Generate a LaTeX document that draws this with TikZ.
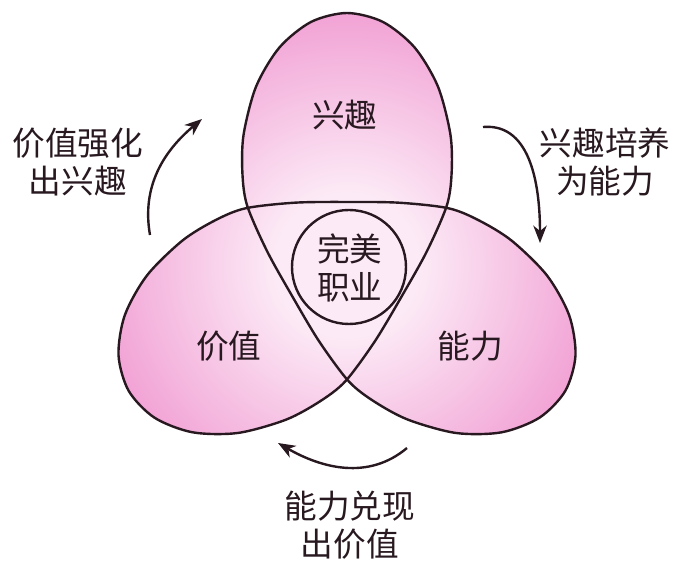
\documentclass[tikz,border=0pt]{standalone}
\usepackage{fontspec}
\setmainfont{Noto Sans CJK SC}
\usepackage{tikz}
\usetikzlibrary{arrows.meta, calc, positioning}
\definecolor{petalpink}{RGB}{241,158,211}
\definecolor{petalpale}{RGB}{252,234,246}
\definecolor{inkline}{RGB}{40,24,32}
\pgfdeclareradialshading{knotglow}{\pgfpoint{0bp}{0bp}}{color(0bp)=(petalpale); color(6bp)=(petalpale); color(22bp)=(petalpink); color(50bp)=(petalpink)}
% outline of the three-lobed knot: one lobe and its inner arc, turned by 120 degrees
\newcommand\knotpts{}
\foreach \k in {0,-120,-240}{%
 \foreach \px/\py in {0/252,-35.9/243.1,-67.5/217.6,-90.9/178.5,-103.4/130.5,-104.6/92.2,-99.9/59.6,-80/14,-54.6/-31.5,-27.9/-76.3,1.7/-116.3,27.5/-136.7,61.3/-154.8,109.1/-168,154.7/-167.3,192.6/-152.6}{%
  \pgfmathsetmacro\kx{\px*cos(\k)-\py*sin(\k)}%
  \pgfmathsetmacro\ky{\px*sin(\k)+\py*cos(\k)}%
  \xdef\knotpts{\knotpts(\kx,\ky)}}}
\begin{document}
\begin{tikzpicture}[x=0.75pt,y=0.75pt,
rim/.style={draw=inkline,line width=1.8pt},
word/.style={inner sep=0pt,align=center,text=inkline,font=\fontsize{24.5}{28.5}\selectfont},
flow/.style={draw=inkline,line width=1.8pt,-{Stealth[length=13pt,width=10pt,inset=4pt]}}]
 \useasboundingbox (-347,-298) rectangle (328,265);
 \begin{scope}
  \edef\knotclip{\noexpand\clip plot[smooth cycle] coordinates {\knotpts};}\knotclip
  \shade[shading=knotglow] (0,0) circle (300);
 \end{scope}
 \edef\knotrim{\noexpand\draw[rim] plot[smooth cycle] coordinates {\knotpts};}\knotrim
 \draw[rim] (2,-2) circle (57);
 \node[word] (interest) at (-2,150) {兴趣};
 \node[word] (value) at (-118,-81) {价值};
 \node[word] (ability) at (123,-81) {能力};
 \node[word] (career) at (3,-3) {完美\\职业};
 \node[word] (vnote) at (-269,103) {价值强化\\出兴趣};
 \node[word] (inote) at (258,103) {兴趣培养\\为能力};
 \node[word] (anote) at (3,-260) {能力兑现\\出价值};
 % curved arrows round the lobes
 \coordinate (vs) at (-197,30); \coordinate (ve) at (-145,146);
 \coordinate (is) at (136,138); \coordinate (ie) at (193,22);
 \coordinate (as) at (60,-183); \coordinate (ae) at (-69,-178);
 \draw[flow] (vs) to[out=100,in=220] (ve);
 \draw[flow] (is) to[out=5,in=90] (ie);
 \draw[flow] (as) to[out=220,in=-30] (ae);
\end{tikzpicture}
\end{document}
